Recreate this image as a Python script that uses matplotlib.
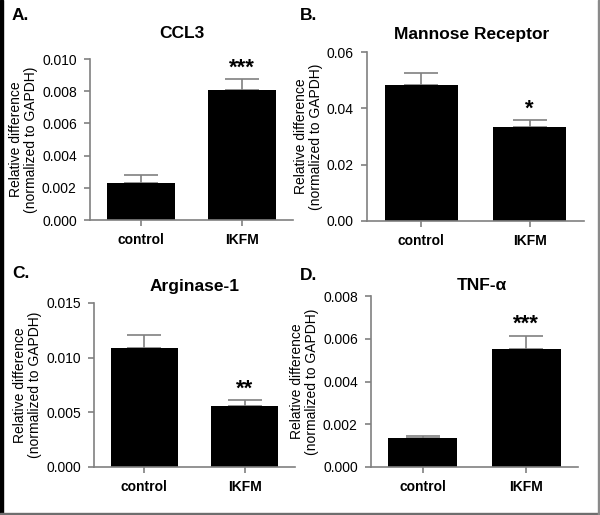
import matplotlib
matplotlib.use("Agg")
import matplotlib.pyplot as plt
from matplotlib.patches import Rectangle

plt.rcParams['font.family'] = ['Liberation Sans', 'DejaVu Sans']

groups = ['control', 'IKFM']

ccl3_mean = [0.0023, 0.0081]
ccl3_err = [0.00047, 0.00065]

mr_mean = [0.0484, 0.0333]
mr_err = [0.0042, 0.0025]

arg1_mean = [0.0109, 0.0056]
arg1_err = [0.0012, 0.0005]

tnf_mean = [0.00138, 0.00552]
tnf_err = [0.00005, 0.00063]

W, H = 600, 515
fig = plt.figure(figsize=(W / 100, H / 100), dpi=100)
fig.patch.set_facecolor('white')

gray = '#808080'


def px_axes(left, top, right, bottom):
    return fig.add_axes([left / W, 1 - bottom / H, (right - left) / W, (bottom - top) / H])


def panel(box, means, errs, ymax, yticks, fmt, title, title_xy, stars, letter, letter_xy):
    ax = px_axes(*box)
    x = [0, 1]
    ax.bar(x, means, width=0.67, color='black', zorder=2)
    ax.errorbar(x, means, yerr=[[0, 0], errs], fmt='none', ecolor=gray,
                elinewidth=1.2, capsize=12, capthick=1.2, zorder=1)
    ax.set_xlim(-0.5, 1.5)
    ax.set_ylim(0, ymax)
    ax.set_yticks(yticks)
    ax.set_yticklabels([fmt.format(t) for t in yticks], fontsize=10)
    ax.set_xticks(x)
    ax.set_xticklabels(groups, fontsize=10, fontweight='bold')
    for s in ['top', 'right']:
        ax.spines[s].set_visible(False)
    for s in ['left', 'bottom']:
        ax.spines[s].set_color(gray)
        ax.spines[s].set_linewidth(1.2)
    ax.tick_params(axis='both', colors=gray, labelcolor='black', length=4, width=1.2,
                   direction='out', pad=5.5)
    ax.set_ylabel('Relative difference\n(normalized to GAPDH)', fontsize=10,
                  linespacing=1.05, labelpad=3)
    # significance stars
    top = means[1] + errs[1]
    ax.text(1, top + ymax * 0.002, stars, ha='center', va='bottom', fontsize=16, fontweight='bold')
    fig.text(title_xy[0] / W, 1 - title_xy[1] / H, title, ha='center', va='center',
             fontsize=12.5, fontweight='bold')
    fig.text(letter_xy[0] / W, 1 - letter_xy[1] / H, letter, ha='left', va='center',
             fontsize=12.5, fontweight='bold')
    return ax


panel((90, 59, 293, 220), ccl3_mean, ccl3_err, 0.010,
      [0, 0.002, 0.004, 0.006, 0.008, 0.010], '{:.3f}',
      'CCL3', (182, 34), '***', 'A.', (12, 15))

panel((367, 52, 584, 221), mr_mean, mr_err, 0.06,
      [0, 0.02, 0.04, 0.06], '{:.2f}',
      'Mannose Receptor', (472, 35), '*', 'B.', (300, 15))

panel((94, 303, 295, 467), arg1_mean, arg1_err, 0.015,
      [0, 0.005, 0.010, 0.015], '{:.3f}',
      'Arginase-1', (195, 287), '**', 'C.', (12, 273))

panel((371, 296, 578, 467), tnf_mean, tnf_err, 0.008,
      [0, 0.002, 0.004, 0.006, 0.008], '{:.3f}',
      'TNF-α', (482, 285), '***', 'D.', (300, 276))

# image frame: thick black left edge, thin gray right / bottom edges
fig.add_artist(Rectangle((0, 0), 3 / W, 1, transform=fig.transFigure, color='black', zorder=5))
fig.add_artist(Rectangle((0, 0), 1, 2 / H, transform=fig.transFigure, color='#6e6e6e', zorder=5))
fig.add_artist(Rectangle((1 - 2 / W, 0), 2 / W, 1, transform=fig.transFigure, color='#8a8a8a', zorder=5))

fig.savefig('out.png', dpi=100)
